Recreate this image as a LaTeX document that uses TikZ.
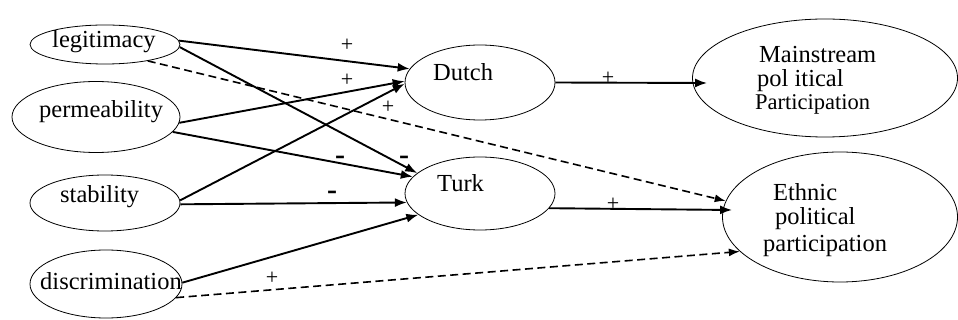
\documentclass[tikz,border=0pt]{standalone}
\usepackage{fontspec}
\setmainfont{Liberation Serif}
\usetikzlibrary{arrows.meta,shapes.geometric}

\begin{document}
\begin{tikzpicture}[x=1pt,y=-1pt,
		oval/.style={draw,ellipse,line width=0.8pt,inner sep=0pt},
		txt/.style={anchor=base west,inner sep=0pt,font=\fontsize{24.5}{26}\selectfont},
		plus/.style={inner sep=0pt,font=\fontsize{22}{22}\selectfont},
		minus/.style={inner sep=0pt,font=\fontsize{30}{30}\selectfont\bfseries},
		eff/.style={-{Latex[length=12pt,width=9pt]},line width=1.9pt},
		indir/.style={-{Latex[length=11pt,width=8pt]},line width=1.6pt,dash pattern=on 8pt off 4.5pt}]
		\useasboundingbox (0,0) rectangle (958,320);

		% predictors
		\node[oval,minimum width=150pt,minimum height=39pt] (leg) at (105,44.5) {};
		\node[oval,minimum width=168pt,minimum height=71pt] (perm) at (96,117) {};
		\node[oval,minimum width=150pt,minimum height=56pt] (stab) at (105,203) {};
		\node[oval,minimum width=152pt,minimum height=68pt] (discr) at (106,284) {};
		\node[txt] (legt) at (52,48) {legitimacy};
		\node[txt] (permt) at (39,118) {permeability};
		\node[txt] (stabt) at (60,203) {stability};
		\node[txt] (discrt) at (40,290) {discrimination};

		% identification
		\node[oval,minimum width=150pt,minimum height=75pt] (dutch) at (480,82.5) {};
		\node[oval,minimum width=150pt,minimum height=73pt] (turk) at (480,193.5) {};
		\node[txt] (dutcht) at (433,81) {Dutch};
		\node[txt] (turkt) at (437,192) {Turk};

		% participation
		\node[oval,minimum width=265pt,minimum height=118pt] (mainpp) at (825,78) {};
		\node[oval,minimum width=235pt,minimum height=130pt] (ethpp) at (840,217) {};
		\node[txt] (mainpt1) at (759,63) {Mainstream};
		\node[txt] (mainpt2) at (757,87) {pol itical};
		\node[txt,font=\fontsize{22.5}{24}\selectfont] (mainpt3) at (755,110) {Participation};
		\node[txt] (ethpt1) at (773,201) {Ethnic};
		\node[txt] (ethpt2) at (775,225) {political};
		\node[txt] (ethpt3) at (763,252) {participation};

		% effects
		\draw[eff] (leg.3) -- (dutch.169);
		\draw[eff] (leg.-2) -- (turk.162);
		\draw[indir] (leg.-21) -- (ethpp.172);
		\draw[eff] (perm.-4) -- (dutch.179);
		\draw[eff] (perm.-11) -- (turk.166);
		\draw[eff] (stab.2) -- (dutch.181);
		\draw[eff] (stab.-1) -- (turk.187);
		\draw[eff] (discr.1) -- (turk.199);
		\draw[indir] (discr.-11) -- (ethpp.199);
		\draw[eff] (dutch.0) -- ([shift={(15,5)}]mainpp.west);
		\draw[eff] (turk.-12) -- ([shift={(10,-7)}]ethpp.west);

		% signs
		\node[plus] (s1) at (347,45) {+};
		\node[plus] (s2) at (347,80) {+};
		\node[plus] (s3) at (388,107) {+};
		\node[plus] (s4) at (272,278) {+};
		\node[plus] (s5) at (608,78) {+};
		\node[plus] (s6) at (613,204) {+};
		\node[minus] (s7) at (340,160) {-};
		\node[minus] (s8) at (404,160) {-};
		\node[minus] (s9) at (332,195) {-};
	\end{tikzpicture}
\end{document}
